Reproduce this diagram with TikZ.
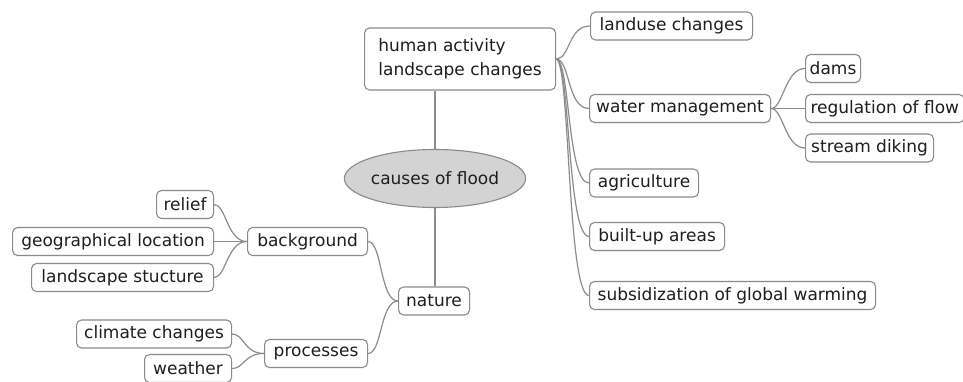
\documentclass[tikz,border=0pt]{standalone}
\usepackage{fontspec}
\setmainfont{DejaVu Sans}
\usetikzlibrary{shapes.geometric}
\definecolor{linegray}{HTML}{8C8C8C}
\definecolor{boxgray}{HTML}{8A8A8A}
\definecolor{rootfill}{HTML}{D3D3D3}
\definecolor{txt}{HTML}{1E1E1E}
\begin{document}
\begin{tikzpicture}[x=1pt,y=-1pt,
  topic/.style={draw=boxgray, line width=1.1pt, rounded corners=5pt, fill=white,
    anchor=west, minimum height=28pt, inner xsep=0pt, inner ysep=0pt,
    text=txt, font=\fontsize{17}{24}\selectfont},
  rootnode/.style={ellipse, draw=boxgray, line width=1.1pt, fill=rootfill,
    minimum width=156pt, minimum height=58pt, inner sep=0pt, text=txt,
    font=\fontsize{17}{24}\selectfont},
  link/.style={draw=linegray, line width=1.2pt}
]
\clip (0,0) rectangle (963,382);
\fill[white] (0,0) rectangle (963,382);

% root
\node[rootnode] (root) at (435,178.5) {causes of flood};

% upper main branch
\node[topic, minimum width=191pt, minimum height=62pt, align=left] (hum) at (364,59)
  {human activity\\landscape changes};

% right side children
\node[topic, minimum width=162pt] (landuse) at (590,26) {landuse changes};
\node[topic, minimum width=181pt] (wm) at (589,108.5) {water management};
\node[topic, minimum width=55pt] (dams) at (805,68.5) {dams};
\node[topic, inner xsep=5pt] (reg) at (805,108.5) {regulation of flow};
\node[topic, minimum width=128pt] (sd) at (805,148) {stream diking};
\node[topic, minimum width=109pt] (agri) at (589,183) {agriculture};
\node[topic, minimum width=135pt] (built) at (589,236.5) {built-up areas};
\node[topic, minimum width=286pt] (subs) at (589,295.5) {subsidization of global warming};

% lower main branch
\node[topic, minimum width=71pt] (nat) at (398,301) {nature};
\node[topic, minimum width=120pt] (bg) at (247,241.5) {background};
\node[topic, minimum width=103pt] (proc) at (264,353.5) {processes};
\node[topic, minimum width=57pt] (relief) at (156,204.5) {relief};
\node[topic, minimum width=201pt] (geo) at (12,241.5) {geographical location};
\node[topic, minimum width=182pt] (lands) at (31,277.5) {landscape stucture};
\node[topic, minimum width=155pt] (clim) at (76,334) {climate changes};
\node[topic, minimum width=87pt] (weath) at (144,368.5) {weather};

% connectors
\path[link] (root.north) -- (root.north |- hum.south);
\path[link] (root.south) -- (root.south |- nat.north);

\foreach \c in {landuse,wm,agri,built,subs}
  \path[link] (hum.east) .. controls +(14,0) and +(-22,0) .. (\c.west);
\foreach \c in {dams,reg,sd}
  \path[link] (wm.east) .. controls +(12,0) and +(-20,0) .. (\c.west);
\foreach \c in {relief,geo,lands}
  \path[link] (\c.east) .. controls +(12,0) and +(-20,0) .. (bg.west);
\foreach \c in {clim,weath}
  \path[link] (\c.east) .. controls +(12,0) and +(-20,0) .. (proc.west);
\foreach \c in {bg,proc}
  \path[link] (\c.east) .. controls +(14,0) and +(-18,0) .. (nat.west);
\end{tikzpicture}
\end{document}
